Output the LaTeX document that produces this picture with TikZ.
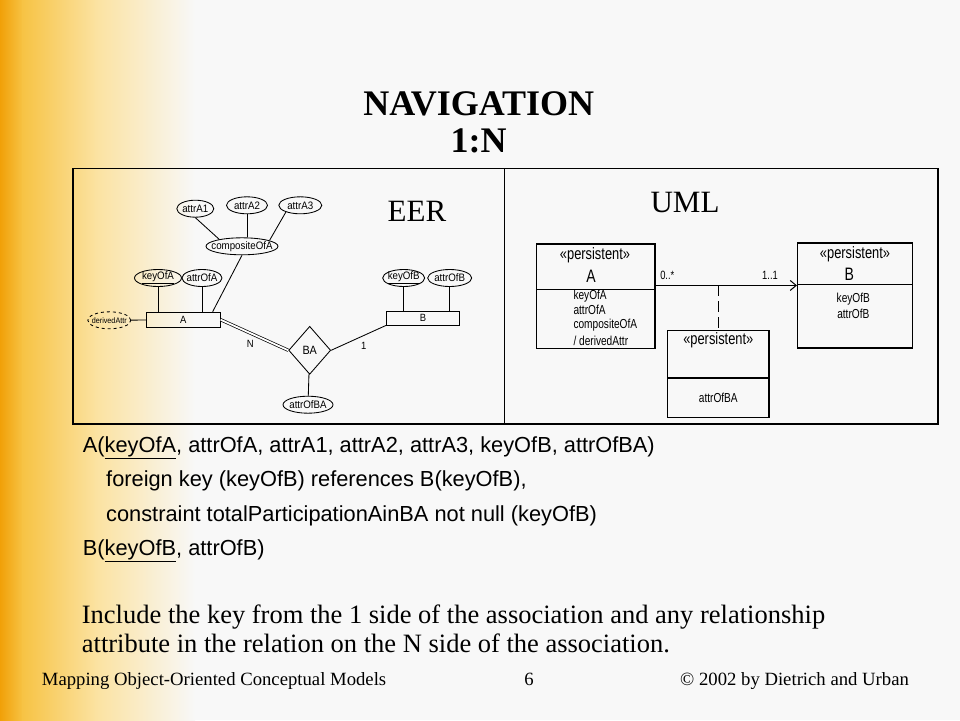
\documentclass[tikz,border=0pt]{standalone}
\usepackage{fontspec}
\setmainfont{Liberation Serif}
\newfontfamily\sansbody{Liberation Sans}
\newfontfamily\erfont[FakeStretch=0.9]{Liberation Sans}
\newfontfamily\umlfont[FakeStretch=0.78]{Liberation Sans}
\usetikzlibrary{shapes.geometric,arrows.meta}
\definecolor{deeporange}{RGB}{241,160,8}
\definecolor{midorange}{RGB}{247,195,68}
\definecolor{paleorange}{RGB}{251,226,160}
\definecolor{slidebg}{RGB}{248,248,248}
\def\sz#1{\fontsize{#1}{#1}\selectfont}

\begin{document}
\begin{tikzpicture}[x=1pt,y=-1pt,
    erline/.style={line width=0.85pt},
    attr/.style={ellipse,draw,erline,inner sep=0pt,minimum height=17pt},
    ent/.style={rectangle,draw,erline,inner sep=0pt,minimum width=74pt,minimum height=15pt,font=\erfont\sz{10.5}},
    every label/.append style={font=\erfont\sz{10.8}},
    umlbox/.style={rectangle,draw,line width=1.5pt,inner sep=0pt},
    umltext/.style={inner sep=0pt,font=\umlfont\sz{13}},
    stereo/.style={inner sep=0pt,font=\umlfont\sz{16.5}},
    umlname/.style={inner sep=0pt,font=\umlfont\sz{18}},
    mult/.style={inner sep=0pt,font=\umlfont\sz{12}},
    body/.style={anchor=base west,inner sep=0pt,font=\sansbody\sz{21.8}},
    note/.style={anchor=base west,inner sep=0pt,font=\sz{26.5}},
    foot/.style={anchor=base west,inner sep=0pt,font=\sz{18.7}}]
    \useasboundingbox (0,0) rectangle (960,720);
    \fill[slidebg] (0,0) rectangle (960,720);
    \shade[left color=deeporange,right color=midorange] (0,0) rectangle (23,720);
    \shade[left color=midorange,right color=paleorange] (22,0) rectangle (96,720);
    \shade[left color=paleorange,right color=slidebg] (95,0) rectangle (195,720);

    \node[anchor=base,inner sep=0pt,font=\bfseries\sz{36}] (title) at (478.8,115) {NAVIGATION};
    \node[anchor=base,inner sep=0pt,font=\bfseries\sz{36}] (ratio) at (478.5,152.7) {1:N};

    \draw[line width=1.2pt] (73,168.5) rectangle (938,424);
    \draw[line width=1.2pt] (504.5,168.5) -- (504.5,424);
    \node[anchor=base,inner sep=0pt,font=\sz{31}] (eer) at (417,221.3) {EER};
    \node[anchor=base,inner sep=0pt,font=\sz{31}] (uml) at (685,212) {UML};

    % EER side
    \foreach \Name/\X/\Y/\Width/\Text in {a1/195.3/208.7/37/attrA1, a2/247/205.3/41/attrA2, a3/300.3/205.3/43/attrA3, comp/242/246.3/72/compositeOfA, keyA/158/278/47/\underline{keyOfA}, attA/202/278/40/attrOfA, keyB/403.7/278/42/\underline{keyOfB}, attB/449.7/278/44/attrOfB, attBA/308/404.7/50/attrOfBA}
        \node[attr,minimum width=\Width,label=center:\Text] (\Name) at (\X,\Y) {};
    \node[attr,dashed,minimum width=43,label={[font=\erfont\sz{8}]center:derivedAttr}] (dAttr) at (109.3,320.3) {};
    \node[ent] (A) at (183.2,319.7) {A};
    \node[ent,minimum width=73.4pt,minimum height=13.5pt] (B) at (423,318.3) {B};
    \node[diamond,draw,erline,inner sep=0pt,minimum width=42pt,minimum height=48pt,font=\erfont\sz{12}] (BA) at (309.7,350.3) {BA};
    \node[inner sep=0pt,font=\erfont\sz{10.5}] (nlab) at (250.3,343.7) {N};
    \node[inner sep=0pt,font=\erfont\sz{10.5}] (onelab) at (363.7,345.7) {1};

    \draw[erline] (a1.south) -- (comp.163);
    \draw[erline] (a2) -- (a2 |- comp.north);
    \draw[erline] (a3.205) -- (comp.12);
    \draw[erline] (comp.south) -- ([xshift=-8pt]A.north east);
    \draw[erline] (keyA) -- (keyA |- A.north);
    \draw[erline] (attA) -- (attA |- A.north);
    \draw[erline] (dAttr) -- (A);
    \draw[line width=0.7pt,double,double distance=1.8pt] (A.east) -- (BA.west);
    \draw[erline] (B.south west) -- (BA.east);
    \draw[erline] (keyB) -- (keyB |- B.north);
    \draw[erline] (attB) -- (attB |- B.north);
    \draw[erline] (BA) -- (attBA);

    % UML side
    \node[umlbox,minimum width=118.3pt,minimum height=45.7pt] (umlAhead) at (595.85,266.85) {};
    \node[umlbox,minimum width=118.3pt,minimum height=59pt] (umlAbody) at (595.85,319.2) {};
    \node[umlbox,minimum width=114.6pt,minimum height=41.7pt] (umlBhead) at (855,263.85) {};
    \node[umlbox,minimum width=114.6pt,minimum height=63.3pt] (umlBbody) at (855,316.35) {};
    \node[umlbox,minimum width=101.3pt,minimum height=47.3pt] (umlBAhead) at (718.35,354.35) {};
    \node[umlbox,minimum width=101.3pt,minimum height=39.3pt] (umlBAbody) at (718.35,397.65) {};

    \node[stereo] (stA) at (595,255.3) {«persistent»};
    \node[umlname] (nmA) at (591,276.3) {A};
    \node[stereo] (stB) at (855,254) {«persistent»};
    \node[umlname] (nmB) at (849.3,274.7) {B};
    \node[stereo] (stBA) at (718.3,340.3) {«persistent»};
    \foreach \Y/\Text [count=\i] in {295.7/keyOfA, 309.7/attrOfA, 325.3/compositeOfA, 341.3/{/ derivedAttr}}
        \node[umltext,anchor=west] (atA\i) at (573.3,\Y) {\Text};
    \foreach \Y/\Text [count=\i] in {298.7/keyOfB, 313.7/attrOfB}
        \node[umltext] (atB\i) at (853.3,\Y) {\Text};
    \node[umltext] (atBA) at (718.3,398) {attrOfBA};

    \draw[line width=1pt,-{Straight Barb[length=6pt,width=10pt]}] (umlAhead.east |- umlBhead.south) -- (umlBhead.south west);
    \draw[line width=1pt,dash pattern=on 11pt off 5pt] (umlBAhead.north |- umlBhead.south) -- (umlBAhead.north);
    \node[mult] (mA) at (667.3,275.3) {0..*};
    \node[mult] (mB) at (770,275.3) {1..1};

    % relational schema
    \node[body] (relA) at (82.7,452) {A(\underline{keyOfA}, attrOfA, attrA1, attrA2, attrA3, keyOfB, attrOfBA)};
    \node[body] (fkey) at (106,486.7) {foreign key (keyOfB) references B(keyOfB),};
    \node[body] (cons) at (106,521.5) {constraint totalParticipationAinBA not null (keyOfB)};
    \node[body] (relB) at (82.7,555) {B(\underline{keyOfB}, attrOfB)};

    \node[note] (inc1) at (81.7,623.3) {Include the key from the 1 side of the association and any relationship};
    \node[note] (inc2) at (81.7,652.5) {attribute in the relation on the N side of the association.};

    \node[foot] (ft1) at (41.7,685.5) {Mapping Object-Oriented Conceptual Models};
    \node[foot,anchor=base] (ft2) at (529,685.5) {6};
    \node[foot] (ft3) at (680,685.5) {© 2002 by Dietrich and Urban};
\end{tikzpicture}
\end{document}
